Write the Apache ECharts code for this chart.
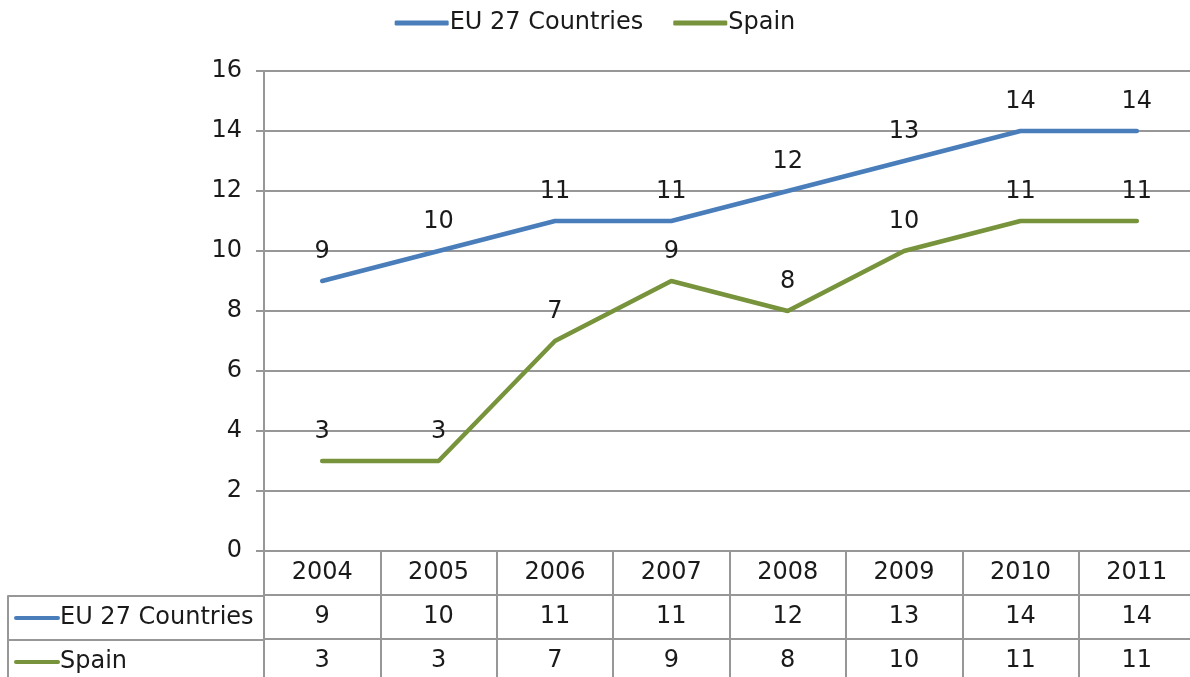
<!DOCTYPE html>
<html>
<head>
<meta charset="utf-8">
<script src="https://cdn.jsdelivr.net/npm/echarts@6/dist/echarts.min.js"></script>
<style>
  html, body { margin: 0; padding: 0; background: #fff; }
  #chart { width: 1190px; height: 677px; }
</style>
</head>
<body>
<div id="chart"></div>
<script>
const years = ["2004", "2005", "2006", "2007", "2008", "2009", "2010", "2011"]
const euValues = [9, 10, 11, 11, 12, 13, 14, 14]
const spainValues = [3, 3, 7, 9, 8, 10, 11, 11]
const seriesNames = ["EU 27 Countries", "Spain"]
const tableRows = ["", "EU 27 Countries", "Spain"]

const blue = "#4a7ebb"
const green = "#77933c"
const gray = "#979797"
const ink = "#1a1a1a"
const font = "DejaVu Sans"

const chart = echarts.init(document.getElementById("chart"))

// cells of the data table: header row with years, then one row per series
const headerCells = years.map(y => [y, "", y])
const euCells = years.map((y, i) => [y, "EU 27 Countries", euValues[i]])
const spainCells = years.map((y, i) => [y, "Spain", spainValues[i]])

const cellSeries = (data) => ({
  type: "scatter",
  xAxisIndex: 1,
  yAxisIndex: 1,
  silent: true,
  symbolSize: 1,
  itemStyle: { color: "transparent", opacity: 1 },
  label: {
    show: true,
    position: "inside",
    formatter: p => String(p.value[2]),
    color: ink,
    fontSize: 24,
    fontFamily: font
  },
  data: data
})

const lineSeries = (name, values, color) => ({
  name: name,
  type: "line",
  data: values,
  color: color,
  symbol: "circle",
  symbolSize: 0.1,
  showSymbol: true,
  lineStyle: { width: 4.5, color: color, cap: "round" },
  label: { show: true, position: "top", distance: 17, fontSize: 24, color: ink, fontFamily: font }
})

chart.setOption({
  animation: false,
  textStyle: { fontFamily: font },
  legend: {
    top: 6,
    left: "center",
    itemWidth: 54,
    itemHeight: 5,
    itemGap: 30,
    icon: "roundRect",
    textStyle: { fontSize: 24, color: ink, fontFamily: font, padding: [0, 0, 0, -4] },
    data: seriesNames
  },
  // the plot and the table run a little past the right and bottom edges
  grid: [
    { left: 264, width: 931, top: 71, height: 480, outerBoundsMode: "none" },
    { left: 264, width: 931, top: 551, height: 132, outerBoundsMode: "none" },
    { left: 8, width: 256, top: 596, height: 88, outerBoundsMode: "none" }
  ],
  xAxis: [
    {
      gridIndex: 0,
      type: "category",
      data: years,
      boundaryGap: true,
      axisLine: { lineStyle: { color: gray, width: 2 } },
      axisTick: { show: false },
      axisLabel: { show: false }
    },
    {
      gridIndex: 1,
      type: "category",
      data: years,
      position: "top",
      boundaryGap: true,
      axisLine: { show: false },
      axisTick: { show: false },
      axisLabel: { show: false },
      splitLine: { show: true, lineStyle: { color: gray, width: 2 } }
    },
    {
      gridIndex: 2,
      type: "value",
      show: false
    }
  ],
  yAxis: [
    {
      gridIndex: 0,
      type: "value",
      min: 0,
      max: 16,
      interval: 2,
      axisLine: { show: true, lineStyle: { color: gray, width: 2 } },
      axisTick: { show: true, length: 8, lineStyle: { color: gray, width: 2 } },
      axisLabel: { fontSize: 24, color: ink, margin: 22, fontFamily: font },
      splitLine: { lineStyle: { color: gray, width: 2 } }
    },
    {
      gridIndex: 1,
      type: "category",
      data: tableRows,
      inverse: true,
      axisLine: { show: true, lineStyle: { color: gray, width: 2 } },
      axisTick: { show: false },
      axisLabel: { show: false },
      splitLine: { show: true, lineStyle: { color: gray, width: 2 } }
    },
    {
      gridIndex: 2,
      type: "category",
      data: seriesNames,
      inverse: true,
      axisLine: { show: true, lineStyle: { color: gray, width: 2 } },
      axisTick: { show: false },
      splitLine: { show: true, lineStyle: { color: gray, width: 2 } },
      axisLabel: {
        inside: true,
        margin: 6,
        fontSize: 24,
        color: ink,
        fontFamily: font,
        formatter: v => (v === "Spain" ? "{es|}" : "{eu|}") + v,
        rich: {
          eu: { width: 46, height: 4, backgroundColor: blue, borderRadius: 2 },
          es: { width: 46, height: 4, backgroundColor: green, borderRadius: 2 }
        }
      }
    }
  ],
  series: [
    lineSeries("EU 27 Countries", euValues, blue),
    lineSeries("Spain", spainValues, green),
    cellSeries(headerCells),
    cellSeries(euCells),
    cellSeries(spainCells)
  ]
})
</script>
</body>
</html>
